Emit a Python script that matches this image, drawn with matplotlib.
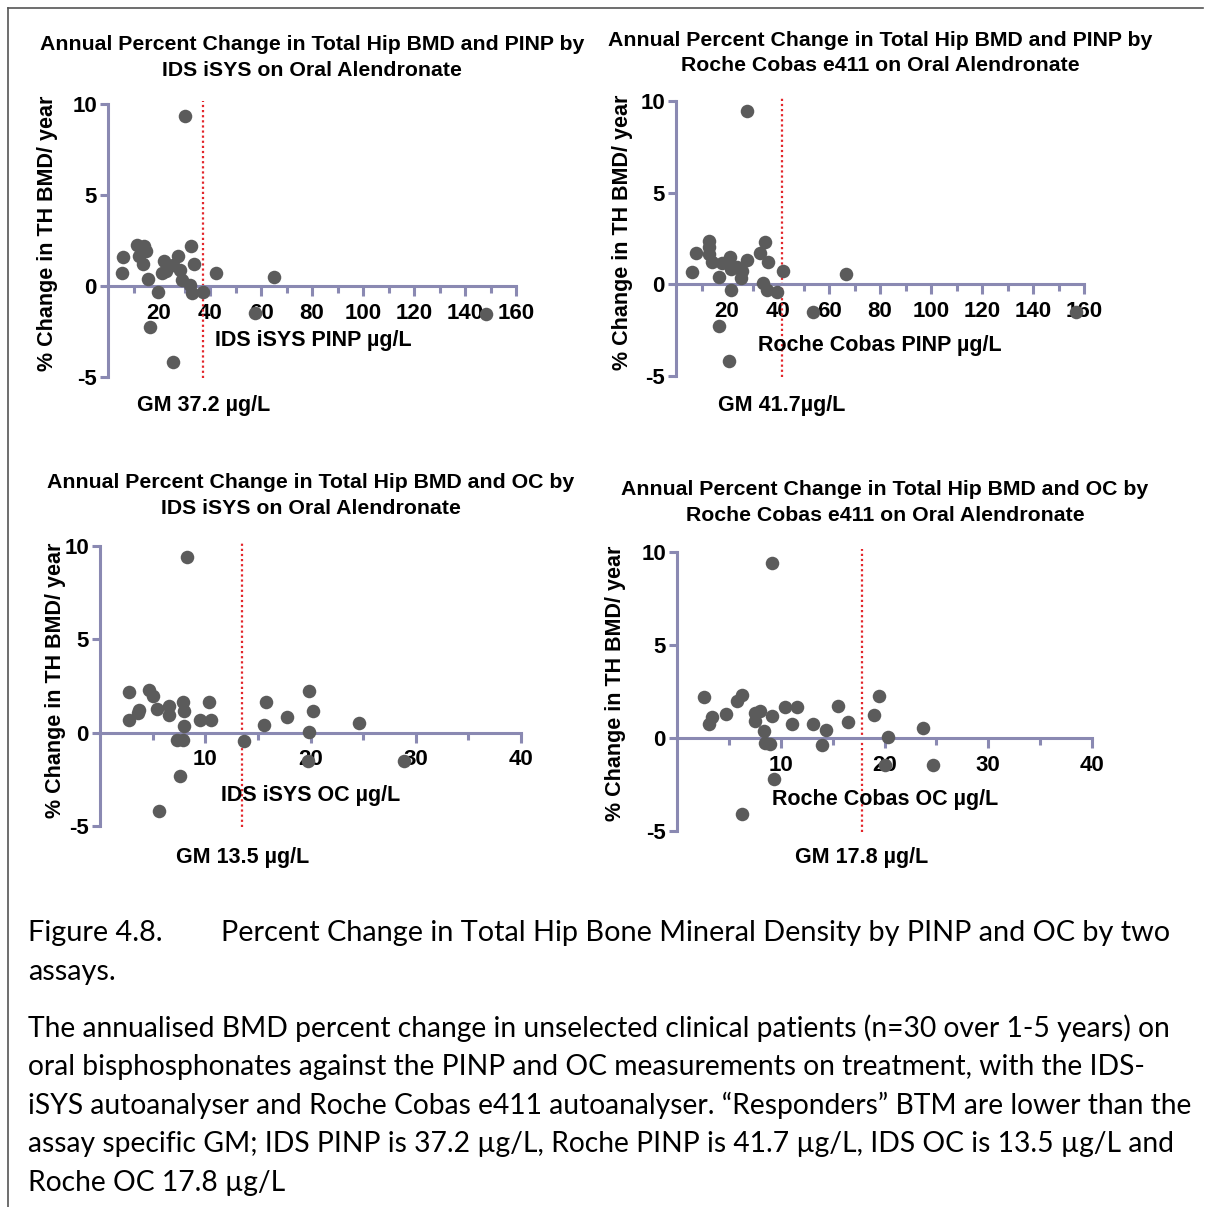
import matplotlib
matplotlib.use("Agg")
import matplotlib.pyplot as plt

W, H = 1205, 1207

# --- data ---
ids_pinp_x = [30.2, 11.2, 14.2, 14.8, 6.0, 12.3, 13.8, 5.6, 15.6, 22.1, 21.3, 22.7, 25.6, 27.6,
              28.2, 28.9, 32.5, 33.6, 32.2, 33.1, 19.7, 37.4, 42.2, 65.1, 57.6, 16.5, 25.6, 148.2]
ids_pinp_y = [9.36, 2.25, 2.2, 1.92, 1.61, 1.67, 1.21, 0.70, 0.37, 1.39, 0.73, 0.82, 1.15, 1.67,
              0.88, 0.33, 2.21, 1.21, 0.05, -0.40, -0.31, -0.35, 0.73, 0.49, -1.46, -2.27, -4.16, -1.54]

roche_pinp_x = [28.0, 12.9, 13.1, 8.0, 13.1, 14.2, 17.9, 21.2, 21.6, 23.8, 25.8, 25.4, 28.0, 6.4,
                16.7, 34.9, 32.9, 36.2, 42.1, 34.0, 35.8, 39.5, 21.6, 17.0, 20.8, 53.8, 66.8, 156.8]
roche_pinp_y = [9.47, 2.35, 2.02, 1.69, 1.65, 1.23, 1.15, 1.47, 0.86, 0.97, 0.73, 0.37, 1.32, 0.70,
                0.38, 2.29, 1.70, 1.23, 0.73, 0.09, -0.33, -0.40, -0.31, -2.29, -4.16, -1.52, 0.55, -1.52]

ids_oc_x = [8.3, 2.8, 4.7, 5.0, 3.7, 3.65, 2.8, 5.4, 6.6, 6.6, 7.9, 7.95, 7.95, 9.5, 10.5,
            10.35, 7.3, 7.85, 13.65, 15.8, 15.6, 17.8, 7.6, 5.6, 19.9, 20.2, 19.9, 24.6, 19.8, 28.9]
ids_oc_y = [9.41, 2.18, 2.30, 1.95, 1.20, 1.05, 0.66, 1.29, 1.45, 0.93, 1.63, 1.14, 0.37, 0.70, 0.66,
            1.63, -0.37, -0.41, -0.43, 1.66, 0.39, 0.82, -2.30, -4.21, 2.21, 1.18, 0.02, 0.52, -1.54, -1.50]

roche_oc_x = [9.19, 2.6, 3.4, 3.1, 4.7, 5.76, 6.24, 7.5, 8.0, 7.5, 8.4, 9.19, 8.49, 8.97, 10.44,
              11.06, 11.57, 13.15, 14.37, 13.95, 15.53, 16.49, 19.03, 19.51, 20.35, 20.06, 9.35, 6.24, 23.7, 24.66]
roche_oc_y = [9.39, 2.22, 1.15, 0.74, 1.27, 1.99, 2.31, 1.33, 1.45, 0.93, 0.39, 1.20, -0.29, -0.32, 1.65,
              0.75, 1.65, 0.74, 0.43, -0.38, 1.72, 0.88, 1.24, 2.26, 0.04, -1.47, -2.20, -4.09, 0.52, -1.45]

gm_values = [37.2, 41.7, 13.5, 17.8]
titles = ["Annual Percent Change in Total Hip BMD and PINP by\nIDS iSYS on Oral Alendronate",
          "Annual Percent Change in Total Hip BMD and PINP by\nRoche Cobas e411 on Oral Alendronate",
          "Annual Percent Change in Total Hip BMD and OC by\nIDS iSYS on Oral Alendronate",
          "Annual Percent Change in Total Hip BMD and OC by\nRoche Cobas e411 on Oral Alendronate"]
xlabels = ["IDS iSYS PINP \u00b5g/L", "Roche Cobas PINP \u00b5g/L",
           "IDS iSYS OC \u00b5g/L", "Roche Cobas OC \u00b5g/L"]
gm_labels = ["GM 37.2 \u00b5g/L", "GM 41.7\u00b5g/L", "GM 13.5 \u00b5g/L", "GM 17.8 \u00b5g/L"]
ylabel = "% Change in TH BMD/ year"

plt.rcParams['font.family'] = ['Liberation Sans', 'DejaVu Sans']
plt.rcParams['axes.unicode_minus'] = False

AX_COL = '#8a89b2'
PT_COL = '#5b5b5b'
RED = '#e3262b'

fig = plt.figure(figsize=(W / 100, H / 100), dpi=100)


def fx(x):
    return x / W


def fy(y):
    return 1 - y / H


def panel(box, xs, ys, xmax, major, minor, gm, title, tpos, xlab, xlpos, gml, gmpos, ylpos):
    l, r, t, b = box
    ax = fig.add_axes([fx(l), fy(b), fx(r) - fx(l), fy(t) - fy(b)])
    ax.set_xlim(0, xmax)
    ax.set_ylim(-5, 10)
    for s in ['top', 'right']:
        ax.spines[s].set_visible(False)
    ax.spines['bottom'].set_position(('data', 0))
    ax.spines['left'].set_position(('data', 0))
    for s in ['bottom', 'left']:
        ax.spines[s].set_color(AX_COL)
        ax.spines[s].set_linewidth(2.2)
    ax.set_xticks(list(range(major, xmax + 1, major)))
    ax.set_xticks(list(range(minor, xmax + 1, minor)), minor=True)
    ax.set_yticks([-5, 0, 5, 10])
    ax.tick_params(axis='x', which='major', length=7, width=2.2, color=AX_COL, pad=5,
                   labelsize=16)
    ax.tick_params(axis='x', which='minor', length=5, width=2.2, color=AX_COL)
    ax.tick_params(axis='y', length=6, width=2.2, color=AX_COL, pad=2, labelsize=16)
    for lab in ax.get_xticklabels() + ax.get_yticklabels():
        lab.set_fontweight('bold')
    ax.patch.set_alpha(0)
    ax.axvline(gm, color=RED, lw=1.6, ls=(0, (1, 1.3)), ymin=-0.005, ymax=1.01, clip_on=False, zorder=2)
    ax.scatter(xs, ys, s=95, color=PT_COL, zorder=4, clip_on=False, linewidths=0)

    fig.text(fx(tpos[0]), fy(tpos[1]), title, ha='center', va='center', fontsize=15.3,
             fontweight='bold', linespacing=1.42)
    fig.text(fx(xlpos[0]), fy(xlpos[1]), xlab, ha='center', va='center', fontsize=15.5, fontweight='bold')
    fig.text(fx(gmpos[0]), fy(gmpos[1]), gml, ha='center', va='center', fontsize=15.5, fontweight='bold')
    fig.text(fx(ylpos[0]), fy(ylpos[1]), ylabel, ha='center', va='center', fontsize=15.5,
             fontweight='bold', rotation=90)
    return ax


panel((108, 516, 104, 377), ids_pinp_x, ids_pinp_y, 160, 20, 10, gm_values[0], titles[0],
      (312, 57.5), xlabels[0], (313, 340), gm_labels[0], (204, 406), (48, 233))
panel((676, 1084, 101, 376), roche_pinp_x, roche_pinp_y, 160, 20, 10, gm_values[1], titles[1],
      (880, 53), xlabels[1], (880, 346), gm_labels[1], (782, 406), (622, 232))
panel((100, 521, 546, 826), ids_oc_x, ids_oc_y, 40, 10, 5, gm_values[2], titles[2],
      (311, 495.5), xlabels[2], (311, 796), gm_labels[2], (243, 858), (55, 680))
panel((677, 1092, 552, 831), roche_oc_x, roche_oc_y, 40, 10, 5, gm_values[3], titles[3],
      (885, 502.5), xlabels[3], (885, 799), gm_labels[3], (862, 858), (616, 683))

# caption
cap_font = ['Lato', 'DejaVu Sans']
fig.text(fx(28), fy(933), "Figure 4.8.", fontsize=20.8, family=cap_font, va='center')
fig.text(fx(221), fy(933), "Percent Change in Total Hip Bone Mineral Density by PINP and OC by two",
         fontsize=20.8, family=cap_font, va='center')
fig.text(fx(28), fy(972), "assays.", fontsize=20.8, family=cap_font, va='center')
para = ["The annualised BMD percent change in unselected clinical patients (n=30 over 1-5 years) on",
        "oral bisphosphonates against the PINP and OC measurements on treatment, with the IDS-",
        "iSYS autoanalyser and Roche Cobas e411 autoanalyser. \u201cResponders\u201d BTM are lower than the",
        "assay specific GM; IDS PINP is 37.2 \u00b5g/L, Roche PINP is 41.7 \u00b5g/L, IDS OC is 13.5 \u00b5g/L and",
        "Roche OC 17.8 \u00b5g/L"]
for i, line in enumerate(para):
    fig.text(fx(28), fy(1028 + i * 38.8), line, fontsize=20.3, family=cap_font, va='center')

# frame lines
fig.add_artist(plt.Line2D([fx(8), fx(1203)], [fy(8), fy(8)], color='#555555', lw=1.2))
fig.add_artist(plt.Line2D([fx(8), fx(8)], [fy(8), fy(1207)], color='#555555', lw=1.2))

fig.savefig("out.png", dpi=100)
